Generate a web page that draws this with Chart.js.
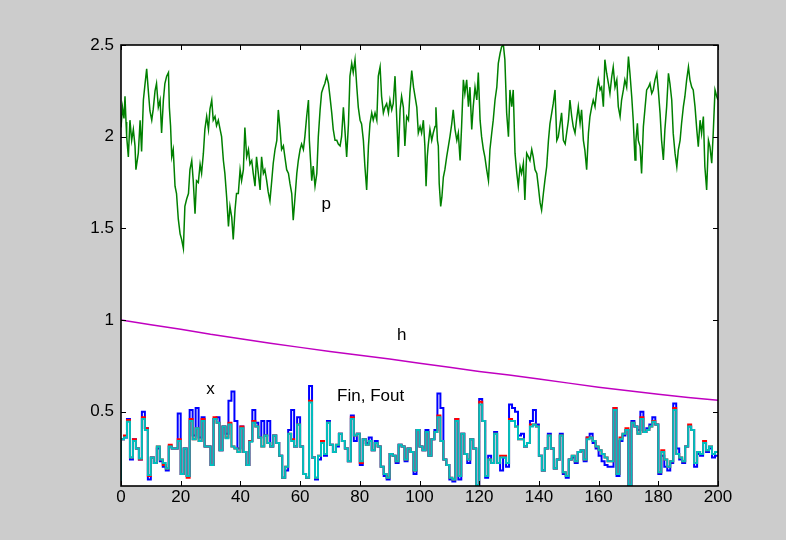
<!DOCTYPE html>
<html><head><meta charset="utf-8">
<script src="https://cdn.jsdelivr.net/npm/chart.js@4.4.1/dist/chart.umd.min.js"></script>
<style>html,body{margin:0;padding:0;background:#cccccc;overflow:hidden}canvas{display:block}</style>
</head><body>
<canvas id="c" width="786" height="540"></canvas>
<script>
// ---- data ----
const xTicks = [0,20,40,60,80,100,120,140,160,180,200];
const yTicks = [0.5,1,1.5,2,2.5];

// p: [time, value]
const pSamples = [
[0,2.05],[0.5,2.16],[1.0,2.10],[1.34,2.22],[1.68,2.08],[1.9,2.00],[2.46,1.89],[3.0,2.09],[3.57,1.98],[4.13,2.04],[4.69,1.95],[5.0,1.82],[5.8,1.91],[6.4,2.09],[6.9,1.92],[7.5,2.20],[8.0,2.28],[8.6,2.37],[9.2,2.24],[9.7,2.14],[10.3,2.09],[10.8,2.15],[11.4,2.25],[11.9,2.29],[12.5,2.16],[13.1,2.20],[13.6,2.02],[14.2,2.20],[14.7,2.29],[15.3,2.33],[15.9,2.35],[16.2,2.16],[16.6,2.06],[17.0,1.89],[17.5,1.93],[18.1,1.73],[18.6,1.69],[19.2,1.55],[19.8,1.47],[20.3,1.44],[20.9,1.39],[21.4,1.62],[22.0,1.66],[22.6,1.69],[23.1,1.82],[23.7,1.87],[24.2,1.76],[24.8,1.58],[25.3,1.76],[25.9,1.75],[26.5,1.85],[27.0,1.80],[27.6,1.91],[28.1,2.04],[28.7,2.11],[29.3,2.04],[29.8,2.15],[30.4,2.20],[30.9,2.09],[31.5,2.11],[32.0,2.06],[32.6,2.09],[33.2,2.04],[33.7,2.00],[34.3,1.87],[34.8,1.80],[35.4,1.67],[36.0,1.51],[36.5,1.62],[37.1,1.56],[37.6,1.44],[38.2,1.60],[38.7,1.69],[39.3,1.69],[39.9,1.82],[40.4,1.76],[41.0,1.82],[41.5,2.05],[42.1,1.89],[42.7,1.93],[43.2,1.85],[43.8,1.87],[44.3,1.80],[44.9,1.73],[45.4,1.89],[46.0,1.80],[46.6,1.71],[47.1,1.89],[47.7,1.80],[48.2,1.82],[48.8,1.76],[49.3,1.70],
[49.9,1.65],[50.5,1.76],[51.0,1.855],[51.6,1.93],[52.2,1.98],[52.7,2.146],[53.3,2.04],[53.8,1.93],[54.4,1.95],[54.9,1.89],[55.5,1.82],[56.1,1.80],[56.6,1.745],[57.2,1.69],[57.7,1.545],[58.3,1.67],[58.9,1.80],[59.4,1.87],[60.0,1.93],[60.5,1.96],[61.1,1.93],[61.6,2.00],[62.2,2.11],[62.8,2.20],[63.1,1.98],[63.5,1.87],[63.9,1.76],[64.4,1.84],[65.0,1.73],[65.6,1.80],[66.1,2.00],[66.7,2.146],[67.2,2.24],[67.8,2.27],[68.3,2.29],[68.9,2.33],[69.5,2.29],[70.0,2.22],[70.6,2.13],[71.1,2.04],[71.7,1.98],[72.3,1.98],[72.8,1.96],[73.4,1.95],[73.9,2.00],[74.5,2.16],[75.0,2.04],[75.6,1.89],[76.2,2.07],[76.7,2.33],[77.3,2.40],[77.8,2.35],[78.4,2.42],[79.0,2.27],[79.5,2.16],[80.1,2.09],[80.6,2.07],[81.2,1.98],[81.7,1.84],[82.3,1.71],[82.9,1.95],[83.4,2.07],[84.0,2.13],[84.5,2.09],[85.1,2.13],[85.7,2.09],[86.2,2.33],[86.8,2.38],[87.3,2.22],[87.9,2.13],[88.4,2.16],[89.0,2.18],[89.6,2.13],[90.1,2.20],[90.7,2.146],[91.2,2.18],[91.8,2.33],[92.4,2.09],[92.9,1.89],[93.5,2.146],[94.0,2.22],[94.6,2.16],[95.1,1.95],[95.7,2.11],[96.3,2.09],[96.8,2.24],[97.4,2.36],[98.0,2.27],[98.5,2.22],[99.1,2.16],[99.6,2.02],
[100.2,2.055],[100.7,2.02],[101.3,2.09],[101.8,1.95],[102.2,1.73],[102.6,1.89],[102.9,1.95],[103.5,2.04],[104.1,1.98],[104.6,2.02],[105.2,2.055],[105.5,2.16],[106.0,1.98],[106.3,1.95],[106.6,1.745],[107.1,1.62],[107.5,1.67],[108.0,1.78],[108.5,1.82],[109.1,1.89],[109.7,1.95],[110.2,2.00],[110.8,2.07],[111.3,2.146],[111.9,2.04],[112.5,1.98],[113.0,2.02],[113.6,1.87],[114.1,2.055],[114.7,2.31],[115.2,2.236],[115.8,2.31],[116.4,2.164],[116.9,2.27],[117.5,2.04],[118.0,2.164],[118.6,2.27],[119.2,2.20],[119.7,2.35],[120.3,2.09],[120.8,2.00],[121.4,1.93],[121.9,1.89],[122.5,1.82],[123.1,1.76],[123.6,1.93],[124.2,2.02],[124.7,2.09],[125.3,2.20],[125.9,2.27],[126.4,2.40],[127.0,2.455],[127.5,2.49],[128.1,2.50],[128.6,2.42],[129.2,2.13],[129.8,2.00],[130.3,2.255],[130.9,2.164],[131.4,2.255],[132.0,1.91],[132.6,1.80],[133.1,1.73],[133.7,1.836],[134.2,1.80],[134.8,1.855],[135.3,1.655],[135.9,1.91],[136.5,1.89],[137.0,1.87],[137.6,1.93],[138.1,1.89],[138.7,1.82],[139.3,1.80],[139.8,1.73],[140.4,1.64],[140.9,1.60],[141.5,1.69],[142.0,1.76],[142.6,1.836],[143.2,1.98],[143.7,2.07],[144.3,2.13],[144.8,2.18],[145.4,2.255],[146.0,1.98],[146.5,2.00],[147.1,2.07],[147.6,2.13],[148.2,1.98],[148.8,1.96],[149.3,2.02],[149.9,2.09],
[150.4,2.20],[151.0,2.11],[151.5,2.055],[152.1,2.02],[152.6,2.09],[153.2,2.164],[153.8,2.073],[154.3,2.146],[154.9,1.98],[155.4,1.927],[156.0,1.82],[156.6,2.02],[157.1,2.11],[157.7,2.164],[158.2,2.20],[158.8,2.164],[159.4,2.255],[159.9,2.31],[160.5,2.255],[161.0,2.27],[161.6,2.164],[162.1,2.42],[162.7,2.346],[163.3,2.29],[163.8,2.236],[164.4,2.327],[164.9,2.38],[165.5,2.27],[166.1,2.31],[166.6,2.164],[167.2,2.11],[167.7,2.20],[168.3,2.255],[168.8,2.31],[169.4,2.27],[170.0,2.437],[170.5,2.346],[171.1,2.218],[171.6,2.09],[172.2,1.873],[172.5,1.98],[173.0,2.073],[173.3,1.98],[173.9,1.946],[174.4,1.80],[175.0,2.055],[175.5,2.146],[176.1,2.255],[176.7,2.27],[177.2,2.29],[177.8,2.236],[178.3,2.255],[178.9,2.31],[179.5,2.346],[180.0,2.255],[180.6,2.127],[181.1,1.98],[181.7,1.873],[182.2,2.037],[182.8,2.164],[183.4,2.346],[183.9,2.29],[184.5,2.20],[185.0,2.018],[185.6,1.91],[186.2,1.836],[186.7,1.927],[187.3,1.98],[187.8,2.073],[188.4,2.164],[188.9,2.218],[189.5,2.31],[190.1,2.38],[190.6,2.31],[191.2,2.27],[191.7,2.255],[192.3,2.164],[192.9,2.037],[193.4,1.946],[194.0,2.09],[194.5,2.018],[195.1,2.11],[195.6,1.836],[196.2,1.71],[196.8,1.98],[197.3,1.946],[197.9,1.855],[198.4,2.018],[199.0,2.255],[199.6,2.218],[200.0,2.20]
];

const hTime  = [0,10,20,30,40,50,60,70,80,90,100,110,120,130,140,150,160,170,180,190,200];
const hValue = [1.000,0.975,0.950,0.922,0.898,0.874,0.851,0.829,0.808,0.787,0.765,0.742,0.720,0.700,0.678,0.656,0.634,0.614,0.595,0.578,0.562];

// sampled once per time unit (index = time); first entry is the start value at t=0
const foutValues = [0.10,
0.35,0.36,0.445,0.25,0.34,0.30,0.245,0.46,0.40,0.155,
0.25,0.22,0.31,0.24,0.22,0.19,0.31,0.30,0.30,0.34,
0.16,0.30,0.15,0.45,0.35,0.41,0.34,0.45,0.31,0.31,
0.21,0.46,0.44,0.29,0.42,0.355,0.43,0.31,0.30,0.28,
0.41,0.28,0.21,0.336,0.44,0.42,0.36,0.31,0.37,0.33,
0.31,0.37,0.33,0.26,0.14,0.20,0.38,0.34,0.31,0.43,
0.31,0.16,0.14,0.55,0.25,0.14,0.26,0.33,0.27,0.44,
0.32,0.28,0.32,0.38,0.34,0.30,0.23,0.46,0.37,0.38,
0.23,0.35,0.32,0.34,0.29,0.33,0.31,0.20,0.16,0.14,
0.27,0.26,0.23,0.32,0.31,0.24,0.30,0.28,0.18,0.40,
0.31,0.29,0.39,0.26,0.35,0.39,0.47,0.34,0.24,0.21,
0.14,0.13,0.45,0.15,0.38,0.27,0.24,0.35,0.30,0.10,
0.54,0.45,0.15,0.24,0.22,0.38,0.22,0.25,0.25,0.22,
0.45,0.45,0.42,0.35,0.35,0.31,0.33,0.42,0.43,0.42,
0.26,0.18,0.30,0.37,0.30,0.19,0.24,0.37,0.17,0.15,
0.24,0.26,0.23,0.28,0.29,0.24,0.35,0.36,0.34,0.31,
0.29,0.27,0.25,0.23,0.23,0.51,0.16,0.35,0.38,0.40,
0.10,0.44,0.42,0.38,0.46,0.39,0.40,0.42,0.445,0.43,
0.17,0.28,0.24,0.20,0.23,0.51,0.27,0.25,0.23,0.31,
0.42,0.40,0.22,0.28,0.27,0.33,0.29,0.31,0.27,0.28];

const finValues = [0.10,
0.35,0.37,0.455,0.25,0.35,0.30,0.24,0.47,0.41,0.15,
0.25,0.22,0.31,0.24,0.21,0.19,0.32,0.30,0.30,0.35,
0.16,0.30,0.14,0.46,0.35,0.41,0.34,0.46,0.31,0.31,
0.21,0.47,0.44,0.29,0.42,0.36,0.44,0.31,0.30,0.28,
0.42,0.28,0.21,0.34,0.45,0.42,0.36,0.31,0.37,0.33,
0.31,0.37,0.33,0.26,0.14,0.20,0.38,0.35,0.31,0.43,
0.31,0.16,0.14,0.56,0.25,0.14,0.26,0.34,0.27,0.44,
0.32,0.28,0.32,0.38,0.34,0.30,0.23,0.47,0.37,0.38,
0.22,0.35,0.32,0.34,0.29,0.33,0.31,0.20,0.16,0.14,
0.27,0.26,0.23,0.32,0.31,0.24,0.30,0.28,0.18,0.40,
0.31,0.29,0.39,0.26,0.35,0.39,0.48,0.34,0.24,0.21,
0.14,0.13,0.46,0.15,0.38,0.27,0.24,0.35,0.30,0.10,
0.555,0.45,0.15,0.24,0.22,0.38,0.22,0.26,0.26,0.22,
0.46,0.45,0.42,0.35,0.35,0.31,0.33,0.43,0.43,0.42,
0.26,0.18,0.30,0.37,0.30,0.19,0.24,0.37,0.17,0.15,
0.24,0.26,0.23,0.28,0.29,0.24,0.36,0.36,0.34,0.31,
0.29,0.27,0.25,0.23,0.23,0.52,0.16,0.36,0.38,0.41,
0.10,0.44,0.42,0.38,0.47,0.39,0.40,0.42,0.45,0.43,
0.17,0.29,0.24,0.20,0.23,0.52,0.27,0.25,0.23,0.31,
0.43,0.40,0.22,0.28,0.27,0.34,0.29,0.31,0.27,0.28];

const xValues = [0.10,
0.35,0.36,0.46,0.24,0.35,0.30,0.24,0.50,0.41,0.13,
0.25,0.22,0.30,0.23,0.20,0.18,0.31,0.30,0.30,0.49,
0.16,0.30,0.15,0.51,0.37,0.52,0.36,0.47,0.31,0.31,
0.21,0.46,0.47,0.29,0.42,0.38,0.56,0.61,0.45,0.30,
0.42,0.28,0.21,0.34,0.51,0.44,0.36,0.45,0.37,0.45,
0.31,0.37,0.33,0.26,0.14,0.18,0.40,0.51,0.31,0.47,
0.31,0.16,0.14,0.64,0.25,0.13,0.24,0.33,0.26,0.45,
0.32,0.28,0.31,0.38,0.34,0.30,0.23,0.48,0.34,0.38,
0.21,0.35,0.33,0.36,0.29,0.34,0.31,0.20,0.15,0.13,
0.27,0.26,0.22,0.32,0.31,0.23,0.30,0.28,0.16,0.40,
0.31,0.29,0.40,0.26,0.35,0.40,0.60,0.52,0.24,0.21,
0.13,0.12,0.46,0.13,0.38,0.27,0.22,0.35,0.30,0.10,
0.57,0.45,0.14,0.26,0.22,0.39,0.22,0.18,0.25,0.20,
0.54,0.52,0.50,0.37,0.38,0.31,0.33,0.45,0.51,0.43,
0.26,0.18,0.30,0.38,0.30,0.19,0.24,0.38,0.16,0.14,
0.24,0.25,0.22,0.28,0.29,0.23,0.36,0.38,0.33,0.30,
0.26,0.23,0.21,0.20,0.20,0.52,0.15,0.34,0.37,0.40,
0.10,0.45,0.42,0.40,0.50,0.39,0.41,0.43,0.47,0.43,
0.16,0.26,0.20,0.18,0.22,0.545,0.30,0.24,0.22,0.31,
0.42,0.40,0.20,0.27,0.26,0.33,0.28,0.30,0.25,0.26];

const noteText = ['p','h','x','Fin, Fout'];
const noteX    = [67.2, 92.5, 28.6, 72.4];
const noteY    = [1.608, 0.891, 0.596, 0.560];

// ---- chart ----
const FONT = "'Liberation Sans', Arial, Helvetica, sans-serif";
Chart.defaults.font.family = FONT;
Chart.defaults.font.size = 17;
Chart.defaults.color = '#000';

const asSteps = arr => arr.map((v, i) => ({x: i, y: v}));

const framePlugin = {
  id: 'frame',
  beforeDatasetsDraw(chart) {
    const {ctx, chartArea: a} = chart;
    ctx.save();
    ctx.fillStyle = '#ffffff';
    ctx.fillRect(a.left, a.top, a.right - a.left, a.bottom - a.top);
    ctx.restore();
  },
  afterDatasetsDraw(chart) {
    const {ctx, chartArea: a, scales} = chart;
    ctx.save();
    ctx.strokeStyle = '#000';
    ctx.lineWidth = 1;
    const tl = 5;
    ctx.beginPath();
    xTicks.forEach(v => {
      const px = Math.round(scales.x.getPixelForValue(v)) + 0.5;
      ctx.moveTo(px, a.bottom); ctx.lineTo(px, a.bottom - tl);
      ctx.moveTo(px, a.top); ctx.lineTo(px, a.top + tl);
    });
    yTicks.forEach(v => {
      const py = Math.round(scales.y.getPixelForValue(v)) + 0.5;
      ctx.moveTo(a.left, py); ctx.lineTo(a.left + tl, py);
      ctx.moveTo(a.right, py); ctx.lineTo(a.right - tl, py);
    });
    ctx.stroke();
    ctx.lineWidth = 1.6;
    ctx.strokeRect(a.left, a.top, a.right - a.left, a.bottom - a.top);
    ctx.fillStyle = '#000';
    ctx.font = '17px ' + FONT;
    ctx.textAlign = 'left';
    ctx.textBaseline = 'alphabetic';
    noteText.forEach((t, i) => {
      ctx.fillText(t, scales.x.getPixelForValue(noteX[i]), scales.y.getPixelForValue(noteY[i]));
    });
    ctx.restore();
  }
};

new Chart(document.getElementById('c'), {
  type: 'line',
  data: {
    datasets: [
      {label: 'Fout', data: asSteps(foutValues), borderColor: '#00bfbf', borderWidth: 2, stepped: 'after', order: 1},
      {label: 'Fin', data: asSteps(finValues), borderColor: '#ff0000', borderWidth: 2, stepped: 'after', order: 2},
      {label: 'x', data: asSteps(xValues), borderColor: '#0000ff', borderWidth: 2, stepped: 'after', order: 3},
      {label: 'h', data: hTime.map((t, i) => ({x: t, y: hValue[i]})), borderColor: '#c000c0', borderWidth: 1.5, order: 4},
      {label: 'p', data: pSamples.map(s => ({x: s[0], y: s[1]})), borderColor: '#008000', borderWidth: 1.5, order: 5}
    ]
  },
  options: {
    responsive: false,
    animation: false,
    devicePixelRatio: 1,
    parsing: false,
    normalized: true,
    elements: {point: {radius: 0}, line: {tension: 0, fill: false}},
    layout: {padding: {left: 0, top: 45, right: 68, bottom: 24}},
    plugins: {legend: {display: false}, tooltip: {enabled: false}},
    scales: {
      x: {
        type: 'linear', min: 0, max: 200,
        grid: {display: false, drawTicks: false},
        border: {display: false},
        afterBuildTicks: s => { s.ticks = xTicks.map(v => ({value: v})); },
        afterFit: s => { s.height = 30; },
        ticks: {padding: 1, maxRotation: 0, autoSkip: false, callback: v => String(v)}
      },
      y: {
        type: 'linear', min: 0.095, max: 2.5,
        grid: {display: false, drawTicks: false},
        border: {display: false},
        afterBuildTicks: s => { s.ticks = yTicks.map(v => ({value: v})); },
        afterFit: s => { s.width = 121; },
        ticks: {padding: 7, autoSkip: false, callback: v => String(v)}
      }
    }
  },
  plugins: [framePlugin]
});
</script>
</body></html>
